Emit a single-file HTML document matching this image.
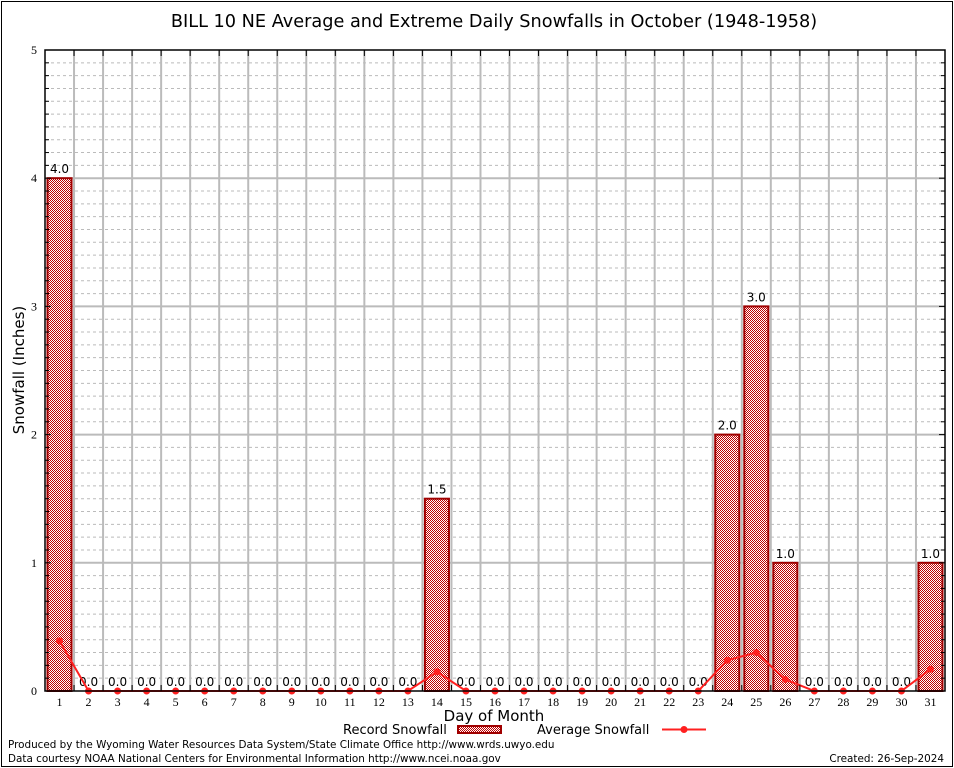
<!DOCTYPE html>
<html><head><meta charset="utf-8"><style>
body{margin:0;background:#fff}
svg{display:block;font-family:"DejaVu Sans","Liberation Sans",sans-serif}
</style></head><body>
<svg width="954" height="768" viewBox="0 0 954 768">
<defs>
<pattern id="chk" width="2" height="2" patternUnits="userSpaceOnUse">
<rect width="2" height="2" fill="#fff"/><rect width="1" height="1" fill="#c00000"/><rect x="1" y="1" width="1" height="1" fill="#c00000"/>
</pattern>
</defs>
<rect x="1.5" y="1.5" width="951" height="765" fill="#fff" stroke="#000" stroke-width="1"/>
<text x="494" y="27" font-size="17.7" text-anchor="middle">BILL 10 NE Average and Extreme Daily Snowfalls in October (1948-1958)</text>
<g id="grid"></g>
<g id="bars"></g>
<g id="avg"></g>
<g id="axes"></g>
<text transform="translate(24,370) rotate(-90)" font-size="15" text-anchor="middle">Snowfall (Inches)</text>
<text x="494" y="721" font-size="15" text-anchor="middle">Day of Month</text>
<g>
<text x="343" y="734" font-size="13">Record Snowfall</text>
<rect x="458" y="726" width="43" height="7" fill="url(#chk)" stroke="#a00000" stroke-width="2"/>
<text x="537" y="734" font-size="13">Average Snowfall</text>
<line x1="662" y1="729.5" x2="706" y2="729.5" stroke="#ff2020" stroke-width="2"/>
<circle cx="684" cy="729.5" r="3.5" fill="#ff2020"/>
</g>
<text x="8" y="748" font-size="10.4">Produced by the Wyoming Water Resources Data System/State Climate Office http://www.wrds.uwyo.edu</text>
<text x="8" y="762" font-size="10.4">Data courtesy NOAA National Centers for Environmental Information http://www.ncei.noaa.gov</text>
<text x="944" y="762" font-size="10.4" text-anchor="end">Created:  26-Sep-2024</text>
</svg>
<script>
const days = [1,2,3,4,5,6,7,8,9,10,11,12,13,14,15,16,17,18,19,20,21,22,23,24,25,26,27,28,29,30,31];
const recordSnow = [4.0,0,0,0,0,0,0,0,0,0,0,0,0,1.5,0,0,0,0,0,0,0,0,0,2.0,3.0,1.0,0,0,0,0,1.0];
const avgSnow = [0.39,0,0,0,0,0,0,0,0,0,0,0,0,0.15,0,0,0,0,0,0,0,0,0,0.24,0.30,0.09,0,0,0,0,0.17];
const yTicks = [0,1,2,3,4,5];

const NS='http://www.w3.org/2000/svg';
const L=45,R=945,T=50,B=691,YMAX=5;
const slot=(R-L)/days.length;
const xC=i=>L+slot*(i+0.5);
const xB=i=>L+slot*i;
const y=v=>B-(v/YMAX)*(B-T);
function mk(tag,attrs,parent){const e=document.createElementNS(NS,tag);for(const k in attrs)e.setAttribute(k,attrs[k]);parent.appendChild(e);return e;}
const grid=document.getElementById('grid'),bars=document.getElementById('bars'),avg=document.getElementById('avg'),axes=document.getElementById('axes');

for(let m=1;m<YMAX*10;m++){ if(m%10===0)continue;
  const l=mk('line',{x1:L,x2:R,y1:y(m/10),y2:y(m/10),stroke:'#bbb','stroke-dasharray':'3,3','stroke-width':1},grid);
  
  
}
yTicks.forEach(v=>{ if(v>0&&v<YMAX){
  const l=mk('line',{x1:L,x2:R,y1:y(v),y2:y(v),stroke:'#bbb','stroke-width':2},grid);
  
  
}});
for(let i=1;i<days.length;i++){
  const l=mk('line',{x1:xB(i),x2:xB(i),y1:T,y2:B,stroke:'#bbb','stroke-width':2},grid);
  
  
}

recordSnow.forEach((v,i)=>{
  if(v>0){
    const r=mk('rect',{x:xB(i)+2.5,y:y(v),width:slot-5,height:B-y(v),fill:'url(#chk)',stroke:'#a00000','stroke-width':2},bars);
    
    
  }
  const t=mk('text',{x:xC(i),y:y(v)-5,'font-size':12,'text-anchor':'middle'},bars);
  t.textContent=v.toFixed(1);
  
  
});

const pts=avgSnow.map((v,i)=>xC(i)+','+y(v)).join(' ');
const pl=mk('polyline',{points:pts,fill:'none',stroke:'#ff2020','stroke-width':2},avg);


avgSnow.forEach((v,i)=>{
  const c=mk('circle',{cx:xC(i),cy:y(v),r:3.5,fill:'#ff2020'},avg);
  
  
});

const fr=mk('rect',{x:L,y:T,width:R-L,height:B-T,fill:'none',stroke:'#000','stroke-width':1.5},axes);


for(let m=1;m<YMAX*10;m++){
  const len=m%10===0?6:4;
  const a=mk('line',{x1:L,x2:L+len,y1:y(m/10),y2:y(m/10),stroke:'#000'},axes);
  
  
  const b=mk('line',{x1:R,x2:R-len,y1:y(m/10),y2:y(m/10),stroke:'#000'},axes);
  
  
}
yTicks.forEach(v=>{
  const t=mk('text',{x:L-8,y:y(v)+4,'font-size':12,'text-anchor':'end','font-family':'"Liberation Serif",serif'},axes);
  t.textContent=v;
  
  
});
for(let i=1;i<days.length;i++){
  const a=mk('line',{x1:xB(i),x2:xB(i),y1:B,y2:B-6,stroke:'#000'},axes);
  
  
  const b=mk('line',{x1:xB(i),x2:xB(i),y1:T,y2:T+6,stroke:'#000'},axes);
  
  
}
days.forEach((d,i)=>{
  const t=mk('text',{x:xC(i),y:B+15,'font-size':12,'text-anchor':'middle','font-family':'"Liberation Serif",serif'},axes);
  t.textContent=d;
  
  
});
</script>
</body></html>
